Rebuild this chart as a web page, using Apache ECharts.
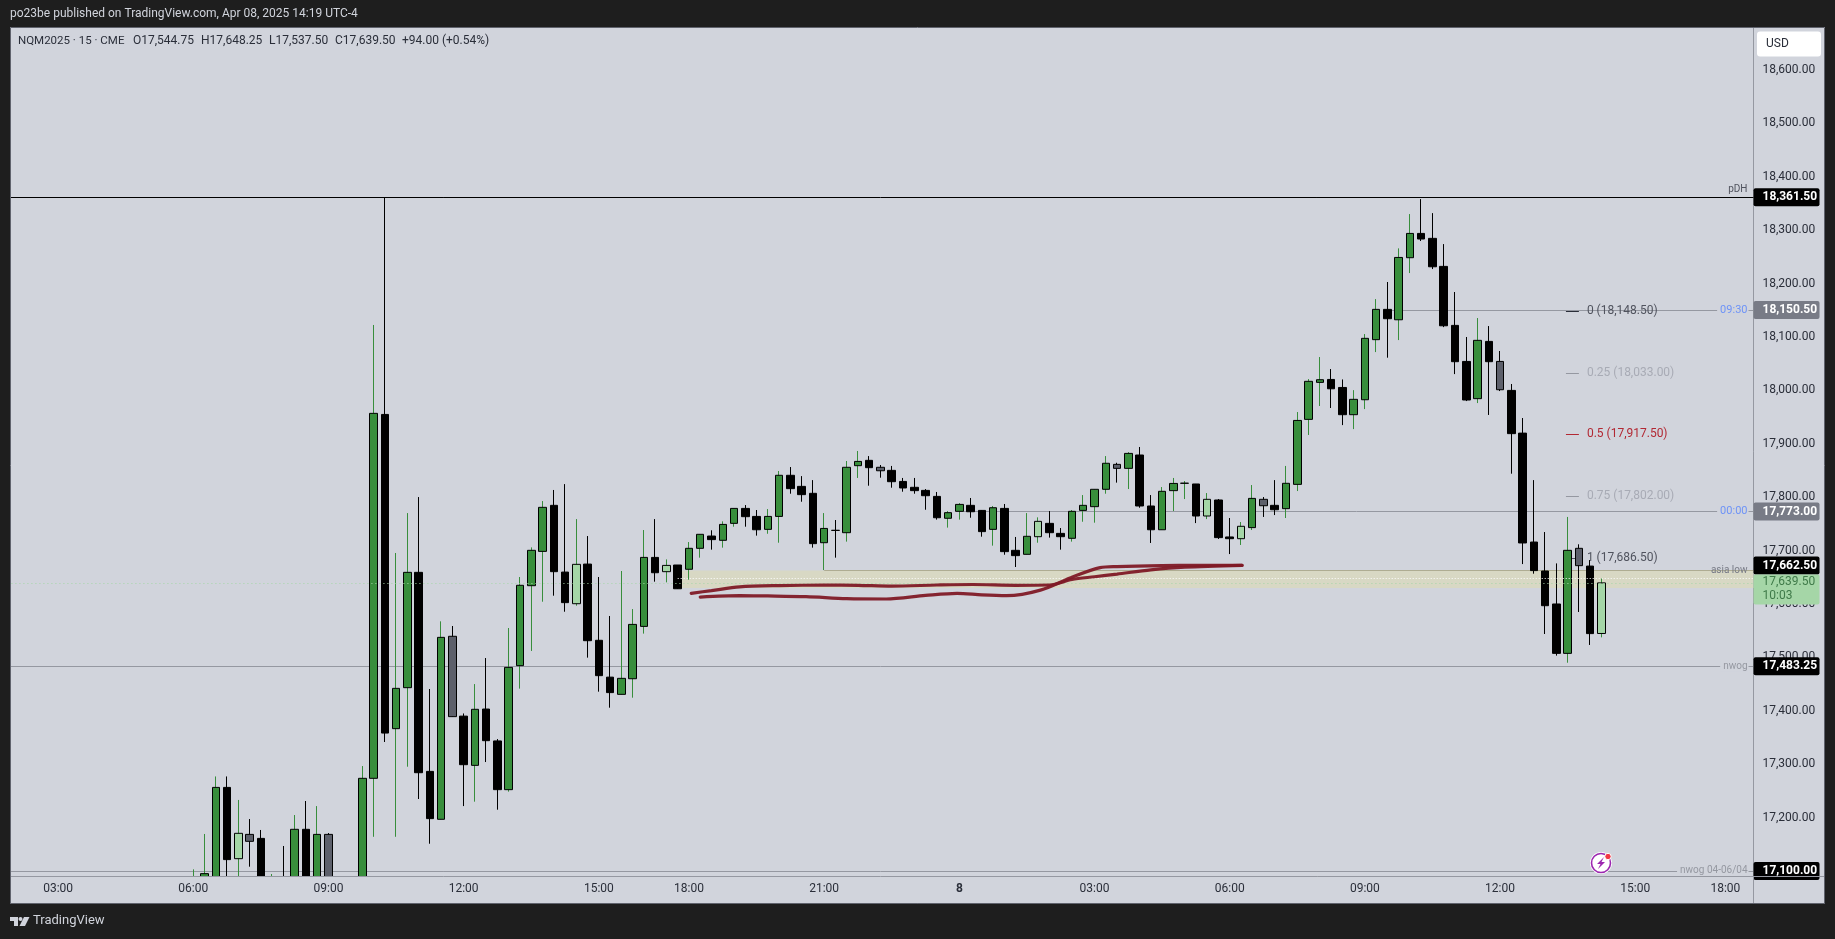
<!DOCTYPE html>
<html><head><meta charset="utf-8">
<style>html,body{margin:0;padding:0;background:#1e1e1e}#c{width:1835px;height:939px}</style>
<script src="https://cdn.jsdelivr.net/npm/echarts@6/dist/echarts.min.js"></script>
</head><body><div id="c"></div>
<script>
const categories = [
'7/02:00','7/02:15','7/02:30','7/02:45','7/03:00','7/03:15','7/03:30','7/03:45','7/04:00','7/04:15','7/04:30','7/04:45',
'7/05:00','7/05:15','7/05:30','7/05:45','7/06:00','7/06:15','7/06:30','7/06:45','7/07:00','7/07:15','7/07:30','7/07:45',
'7/08:00','7/08:15','7/08:30','7/08:45','7/09:00','7/09:15','7/09:30','7/09:45','7/10:00','7/10:15','7/10:30','7/10:45',
'7/11:00','7/11:15','7/11:30','7/11:45','7/12:00','7/12:15','7/12:30','7/12:45','7/13:00','7/13:15','7/13:30','7/13:45',
'7/14:00','7/14:15','7/14:30','7/14:45','7/15:00','7/15:15','7/15:30','7/15:45','7/16:00','7/16:15','7/16:30','7/16:45',
'7/18:00','7/18:15','7/18:30','7/18:45','7/19:00','7/19:15','7/19:30','7/19:45','7/20:00','7/20:15','7/20:30','7/20:45',
'7/21:00','7/21:15','7/21:30','7/21:45','7/22:00','7/22:15','7/22:30','7/22:45','7/23:00','7/23:15','7/23:30','7/23:45',
'8/00:00','8/00:15','8/00:30','8/00:45','8/01:00','8/01:15','8/01:30','8/01:45','8/02:00','8/02:15','8/02:30','8/02:45',
'8/03:00','8/03:15','8/03:30','8/03:45','8/04:00','8/04:15','8/04:30','8/04:45','8/05:00','8/05:15','8/05:30','8/05:45',
'8/06:00','8/06:15','8/06:30','8/06:45','8/07:00','8/07:15','8/07:30','8/07:45','8/08:00','8/08:15','8/08:30','8/08:45',
'8/09:00','8/09:15','8/09:30','8/09:45','8/10:00','8/10:15','8/10:30','8/10:45','8/11:00','8/11:15','8/11:30','8/11:45',
'8/12:00','8/12:15','8/12:30','8/12:45','8/13:00','8/13:15','8/13:30','8/13:45','8/14:00','8/14:15','8/14:30','8/14:45',
'8/15:00','8/15:15','8/15:30','8/15:45','8/16:00','8/16:15','8/16:30','8/16:45','8/18:00','8/18:15','8/18:30'];
const tickCats = ['7/03:00','7/06:00','7/09:00','7/12:00','7/15:00','7/18:00','7/21:00','8/00:00','8/03:00','8/06:00','8/09:00','8/12:00','8/15:00','8/18:00'];
const tickLabels = ['03:00','06:00','09:00','12:00','15:00','18:00','21:00','8','03:00','06:00','09:00','12:00','15:00','18:00'];
const priceTicks = [17100,17200,17300,17400,17500,17600,17700,17800,17900,18000,18100,18200,18300,18400,18500,18600];

const firstCandle = '7/06:00';
const opens = [17060,17070,17085,17256.5,17123,17168.5,17161,17040,17085,17075,17178,17075,17168.5,17080,17050,17080,17273.5,17955,17366.5,17443.25,
17659.25,17286.5,17196.75,17539.5,17390,17297.75,17403.25,17343.5,17252.25,17484.5,17634.25,17698.5,17784.75,17659.75,17600.5,17674.75,17532,17463,17430.75,17460,
17558,17687.25,17660.5,17673,17665,17704.25,17727.25,17719.25,17751,17779,17764,17739.75,17764,17841,17820.25,17807.25,17714.75,17738,17733.5,17859,
17869,17856,17850.25,17829.5,17818.5,17812.75,17801.5,17760.5,17773.5,17784.75,17775.25,17739.75,17779,17700.5,17693,17726,17751,17732.25,17723,17775.25,
17782.25,17814.75,17861.5,17854,17879,17783.5,17739,17812.25,17826,17824.75,17764.75,17794.75,17725.5,17722.25,17743,17796,17784.75,17778.5,17824,17945.75,
18015,18020.5,18005.5,17954.5,17982.5,18095,18151.75,18132.25,18248.5,18294,18284.75,18232.25,18121.75,18054.25,17984.5,18091.75,18054.25,18000,17920,17716,
17661.75,17600,17507.5,17704.25,17671,17544.75];
const closes = [17085,17095,17256.5,17121.25,17170.5,17155.5,17070,17070,17060,17178,17070,17168.5,17080,17060,17080,17273.5,17957,17358.25,17442,17659.25,
17284,17198,17537.5,17389,17299,17402.75,17344,17252.25,17481.25,17635,17700.5,17781,17660.5,17602.5,17674.25,17531.25,17465.75,17434,17460.75,17561.75,
17687.25,17658.5,17672.25,17628.5,17704.25,17730.5,17720.5,17749,17779,17763.5,17739,17764,17841,17816,17804.75,17713,17741.5,17737.75,17856,17867,
17855.25,17849.5,17829,17817.25,17812.25,17802.75,17761.5,17771,17786.5,17772.75,17735.5,17780.25,17698,17690.5,17726.75,17754.75,17733.5,17726,17773.5,17784.75,
17814.75,17863.5,17854,17882,17783.5,17739,17811,17825.75,17826.25,17764.75,17796,17724.25,17722.25,17745.5,17797.75,17784,17776.5,17826,17943.75,18017,
18020,18003,17954.5,17983.25,18097.5,18151.75,18134.25,18249,18294,18283.5,18231.5,18121,18053.75,17982,18093.75,18053.75,18001.25,17919,17714.25,17662.5,
17596.75,17507.5,17700.5,17671.75,17544.5,17639.5];
const lows = [17050,17060,17060,17070,17085,17108,17050,17020,17040,17060,17050,17055,17060,17040,17040,17060,17164,17341.5,17164,17295.25,
17234.75,17151,17196.75,17389,17221.5,17229.75,17304,17214.75,17248.5,17441.5,17512,17604.25,17615.5,17585.5,17596.75,17499.5,17435.75,17405.75,17430.75,17424.5,
17544.5,17641.75,17640.5,17628.5,17645.5,17686.75,17701.75,17705.5,17744.75,17744.75,17728,17731.5,17714.75,17806.5,17791.5,17705.5,17663.5,17686.75,17716.75,17836,
17821.5,17836.5,17817.75,17810.25,17806.5,17776.5,17758,17743,17758,17761.5,17726,17709.25,17692.25,17669.25,17693,17714.75,17724.25,17701.75,17716.75,17754,
17752.25,17806.5,17827.25,17815.25,17780.25,17714.25,17739,17774,17796.5,17751.5,17759,17721.75,17693.5,17710.5,17738.5,17763,17766.5,17761,17811.5,17916.5,
17970.75,17967,17935,17927.5,17965,18071.75,18061.25,18094.25,18219.75,18279.75,18227.25,18118.5,18030.5,17980,17976.25,17954,17998.75,17844,17674.75,17656.75,
17543.75,17503.25,17490,17585,17523.25,17537.5];
const highs = [17103,17169.25,17277,17277,17233,17197.25,17176.75,17094.25,17146.75,17204.75,17231,17221.5,17171,17085,17088,17296.5,18122.5,18361.5,17695.5,17770.25,
17800.25,17440.75,17567.5,17558.75,17395,17450,17498.75,17347,17555,17650.5,17706,17792.75,17813.5,17824.5,17759,17727.25,17650.5,17577.5,17661.75,17590.5,
17738.5,17759,17683.5,17673,17716,17730.5,17738,17754.75,17779,17785.25,17776,17777.75,17849,17856.5,17839.5,17832,17770.25,17757.25,17867.75,17886.5,
17877,17860.25,17858.5,17836,17836,17815.25,17809.75,17774,17789,17798.5,17775.25,17783.5,17787.25,17725.5,17770.25,17762.25,17774,17742.25,17776,17804,
17814.75,17877,17864.5,17884.5,17894,17804,17819,17836,17830.25,17824.75,17807.75,17796.5,17761,17753.5,17822.75,17800.25,17832,17858.5,17959.5,18021.25,
18062.5,18040,18020.5,18000.5,18105.5,18171,18203,18266,18330.25,18358.25,18332,18274,18184.25,18100,18135.5,18120.5,18073.75,18012,17948.25,17832,
17734.75,17676,17763,17711.75,17682.25,17648.25];
const paleBars = ['7/07:00','7/14:30','7/16:30','8/01:45','8/05:30','8/06:15','8/14:15'];
const greyBars = ['7/07:15','7/09:00','7/11:45','7/22:15','8/03:30','8/06:45','8/12:00','8/13:45'];

const levelNames  = ['pDH','09:30','00:00','asia low','nwog','nwog 04-06/04'];
const levelPrices = [18361.5,18150.5,17773,17662.5,17483.25,17100];
const levelStarts = [-16.5,106,68,56,-16.5,-16.5];
const zoneTop = 17662.5, zoneBottom = 17630, zoneStart = 43;
const highOfLast = 17648.25, lastPrice = 17639.5, countdown = '10:03';
const fibNames  = ['0','0.25','0.5','0.75','1'];
const fibPrices = [18148.5,18033,17917.5,17802,17686.5];
const fibStart = 121.85, fibEnd = 123;

// hand-drawn stroke as [bar position, price]
const strokeOut = [[44.2,17620],[46,17625],[48.5,17632],[52,17634.5],[56,17635.5],[59,17635],[62,17633.5],[66,17635.5],[69.2,17636.5],[73,17635],[76,17635.5],[78,17646],[80,17651],[82,17656],[85,17664],[88,17669],[93.1,17672.4]];
const strokeBack = [[93.1,17672.4],[89,17672.5],[86,17672],[82,17670],[80.5,17668],[78.1,17651],[75.2,17626],[72.2,17615.5],[70,17617],[67.8,17620],[65,17616],[61.5,17609.3],[58,17610],[54.4,17613.7],[51,17615],[48.5,17615.5],[45,17613]];

const GREEN='#388e3c', PALE='#a5d6a7', GREY='#5d606b', BLACK='#000000', PANE='#d1d4dc', DARK='#1e1e1e', AXIS='#9598a1', TEXT='#2a2e39';
const FONT='Roboto';
const fmt = v => Number(v).toLocaleString('en-US',{minimumFractionDigits:2,maximumFractionDigits:2});
const first = categories.indexOf(firstCandle);

function styleFor(fill, stroke){
  return {color:fill,color0:fill,borderColor:stroke,borderColor0:stroke,borderColorDoji:stroke};
}
function kind(i){
  const t = categories[first+i];
  if (paleBars.includes(t)) return 'pale';
  if (greyBars.includes(t)) return 'grey';
  return closes[i]>=opens[i] ? 'up' : 'down';
}
const fills = {pale:PALE,grey:GREY,up:GREEN,down:BLACK};
const wickCols = {pale:GREEN,grey:BLACK,up:GREEN,down:BLACK};

const wickData = opens.map((o,i)=>({
  value:[first+i,o,closes[i],lows[i],highs[i]],
  itemStyle:styleFor(wickCols[kind(i)],wickCols[kind(i)])
}));
const bodyData = opens.map((o,i)=>({
  value:[first+i,o,closes[i],Math.min(o,closes[i]),Math.max(o,closes[i])],
  itemStyle:styleFor(fills[kind(i)],BLACK)
}));

const badgeBg = [BLACK,'#787b86','#787b86',BLACK,BLACK,BLACK];
const lineCol = [BLACK,AXIS,AXIS,'#aeac92',AXIS,AXIS];
const nameCol = ['#50535e','#6e93f7','#6e93f7','#787b86','#9598a1','#9598a1'];
const fibCol  = ['#50535e','#a8abb5','#b22833','#a8abb5','#50535e'];
const fibDash = ['#2a2e39','#9598a1','#b22833','#9598a1','#50535e'];

const badgeLabel = (bg,text,col)=>({
  show:true,position:'end',distance:0,formatter:text,color:col||'#fff',backgroundColor:bg,
  fontFamily:FONT,fontSize:12,fontWeight:col?'normal':'bold',padding:[2,5,2,9],width:52,lineHeight:14,align:'left',borderRadius:2
});

const lineData = [];
levelPrices.forEach((p,i)=>{
  const lab = badgeLabel(badgeBg[i],fmt(p));
  if (levelNames[i]==='asia low') lab.offset=[0,-5];
  lineData.push([
    {xAxis:levelStarts[i],yAxis:p,lineStyle:{color:lineCol[i],width:1,type:'solid'},label:lab},
    {xAxis:138.5,yAxis:p}
  ]);
});
fibPrices.forEach((p,i)=>{
  lineData.push([
    {xAxis:fibStart,yAxis:p,lineStyle:{color:fibDash[i],width:1,type:'solid'},
     label:{show:true,position:'end',distance:8,formatter:fibNames[i]+' ('+fmt(p)+')',color:fibCol[i],fontFamily:FONT,fontSize:12}},
    {xAxis:fibEnd,yAxis:p}
  ]);
});

const namePoints = levelNames.map((n,i)=>({
  coord:[138.1,levelPrices[i]],
  symbol:'rect',symbolSize:1,itemStyle:{color:'rgba(0,0,0,0)'},
  label:{show:true,position:'left',distance:0,formatter:n,color:nameCol[i],fontFamily:FONT,fontSize:i===1||i===2?11:10,
    backgroundColor:i===0||i===3?'transparent':PANE,padding:[0,1,0,3],offset:i===0?[0,-8]:[0,0]}
}));

const option = {
  animation:false,
  backgroundColor:PANE,
  textStyle:{fontFamily:FONT},
  grid:{left:7.43,top:27.3,width:1746.08,height:849,containLabel:false},
  xAxis:[
    {type:'category',data:categories,boundaryGap:true,z:102,
     axisLine:{show:true,lineStyle:{color:AXIS,width:1}},axisTick:{show:false},splitLine:{show:false},
     axisLabel:{color:TEXT,fontFamily:FONT,fontSize:12,margin:7,hideOverlap:false,
       interval:(i,v)=>tickCats.includes(v),
       formatter:v=>{const l=tickLabels[tickCats.indexOf(v)];return l==='8'?'{b|8}':l;},
       rich:{b:{fontWeight:'bold',fontFamily:FONT,fontSize:12,color:TEXT}}}},
    {type:'value',show:false,min:-16.5,max:138.5,gridIndex:0,splitLine:{show:false}}
  ],
  yAxis:{type:'value',position:'right',min:17090,max:18680,
    axisLine:{show:true,onZero:false,lineStyle:{color:AXIS,width:1}},axisTick:{show:false},splitLine:{show:false},
    axisLabel:{color:TEXT,fontFamily:FONT,fontSize:12,margin:9,customValues:priceTicks,formatter:fmt,hideOverlap:false}},
  series:[
    {name:'levels',type:'line',xAxisIndex:1,data:[],z:1,silent:true,
     markArea:{silent:true,z:1,itemStyle:{color:'#d8d8c4'},data:[[{xAxis:zoneStart,yAxis:zoneTop},{xAxis:138.5,yAxis:zoneBottom}]]},
     markLine:{silent:true,z:1,symbol:['none','none'],animation:false,data:lineData},
     markPoint:{silent:true,z:1,animation:false,data:namePoints}},
    {name:'wicks',type:'candlestick',xAxisIndex:0,z:3,barWidth:1,silent:true,clip:true,data:wickData,
     encode:{x:0,y:[1,2,3,4]},itemStyle:{borderWidth:1}},
    {name:'bodies',type:'candlestick',xAxisIndex:0,z:4,barWidth:8,silent:true,clip:true,data:bodyData,
     encode:{x:0,y:[1,2,3,4]},itemStyle:{borderWidth:1}},
    {name:'dots',type:'line',xAxisIndex:1,data:[],z:10,silent:true,
     markLine:{silent:true,z:10,symbol:['none','none'],animation:false,data:[
       [{xAxis:-16.5,yAxis:lastPrice,lineStyle:{color:PALE,width:1,type:[1,3]},
         label:{...badgeLabel(PALE,fmt(lastPrice)+'\n'+countdown,'#3f7a49'),padding:[1,5,1,9],offset:[0,6.5]}},{xAxis:138.5,yAxis:lastPrice}],
       [{xAxis:zoneStart,yAxis:highOfLast,lineStyle:{color:'#ffffff',width:1,type:[1,2]},label:{show:false}},{xAxis:138.5,yAxis:highOfLast}]
     ]}},
    {name:'stroke out',type:'line',xAxisIndex:1,z:11,silent:true,showSymbol:false,symbol:'none',smooth:0.3,data:strokeOut,
     lineStyle:{color:'#7f1a26',width:3.2,cap:'round',opacity:.95}},
    {name:'stroke back',type:'line',xAxisIndex:1,z:11,silent:true,showSymbol:false,symbol:'none',smooth:0.3,data:strokeBack,
     lineStyle:{color:'#7f1a26',width:3.2,cap:'round',opacity:.95}}
  ],
  graphic:[
    {type:'rect',z:100,silent:true,shape:{x:10,y:877,width:1743,height:27},style:{fill:PANE}},
    {type:'rect',z:100,silent:true,shape:{x:0,y:0,width:1835,height:27},style:{fill:DARK}},
    {type:'rect',z:100,silent:true,shape:{x:0,y:903.5,width:1835,height:36},style:{fill:DARK}},
    {type:'rect',z:103,silent:true,shape:{x:0,y:0,width:10,height:939},style:{fill:DARK}},
    {type:'rect',z:103,silent:true,shape:{x:1825,y:0,width:10,height:939},style:{fill:DARK}},
    {type:'rect',z:104,silent:true,shape:{x:10.5,y:27.5,width:1814,height:876},style:{fill:'none',stroke:'#60636d',lineWidth:1}},
    {type:'line',z:103,silent:true,shape:{x1:1753.5,y1:876.5,x2:1825,y2:876.5},style:{stroke:AXIS,lineWidth:1}},
    {type:'line',z:103,silent:true,shape:{x1:1753.5,y1:876,x2:1753.5,y2:903},style:{stroke:AXIS,lineWidth:1}},
    {type:'text',z:105,silent:true,x:10,y:8,style:{text:'po23be published on TradingView.com, Apr 08, 2025 14:19 UTC-4',fill:PANE,font:'12px '+FONT}},
    {type:'text',z:105,silent:true,x:18,y:35,style:{text:'NQM2025 · 15 · CME',fill:TEXT,font:'11.5px '+FONT}},
    {type:'text',z:105,silent:true,x:133,y:35,style:{text:'O17,544.75',fill:TEXT,font:'12px '+FONT}},
    {type:'text',z:105,silent:true,x:201,y:35,style:{text:'H17,648.25',fill:TEXT,font:'12px '+FONT}},
    {type:'text',z:105,silent:true,x:269,y:35,style:{text:'L17,537.50',fill:TEXT,font:'12px '+FONT}},
    {type:'text',z:105,silent:true,x:335,y:35,style:{text:'C17,639.50',fill:TEXT,font:'12px '+FONT}},
    {type:'text',z:105,silent:true,x:402,y:35,style:{text:'+94.00 (+0.54%)',fill:TEXT,font:'12px '+FONT}},
    {type:'rect',z:105,silent:true,shape:{x:1757,y:31.5,width:64,height:25,r:3},style:{fill:'#ffffff'}},
    {type:'text',z:106,silent:true,x:1766,y:38,style:{text:'USD',fill:TEXT,font:'12px '+FONT}},
    {type:'polygon',z:105,silent:true,shape:{points:[[10,917],[18,917],[18,926],[14,926],[14,921],[10,921]]},style:{fill:PANE}},
    {type:'circle',z:105,silent:true,shape:{cx:20.5,cy:919,r:2},style:{fill:PANE}},
    {type:'polygon',z:105,silent:true,shape:{points:[[24,917],[29.5,917],[25,926],[19.5,926]]},style:{fill:PANE}},
    {type:'text',z:105,silent:true,x:33,y:914,style:{text:'TradingView',fill:PANE,font:'13px '+FONT}},
    {type:'circle',z:60,silent:true,shape:{cx:1601,cy:863,r:11},style:{fill:'#ffffff'}},
    {type:'circle',z:61,silent:true,shape:{cx:1601,cy:863,r:9.5},style:{fill:'#ffffff',stroke:'#9c27b0',lineWidth:1.6}},
    {type:'polygon',z:62,silent:true,shape:{points:[[1604,857],[1597,864],[1600.5,864],[1598,869],[1605,862],[1601.5,862]]},style:{fill:'#9c27b0'}},
    {type:'circle',z:63,silent:true,shape:{cx:1608,cy:856.5,r:3.2},style:{fill:'#f23645',stroke:'#ffffff',lineWidth:1}}
  ]
};
const chart = echarts.init(document.getElementById('c'),null,{width:1835,height:939,renderer:'canvas'});
chart.setOption(option);
</script></body></html>
